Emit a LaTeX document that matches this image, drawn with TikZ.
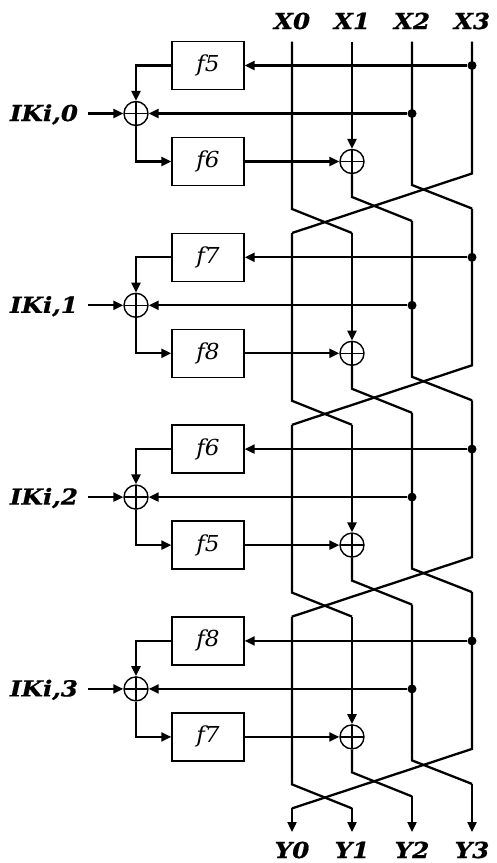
\documentclass[tikz,border=0pt]{standalone}
\usepackage{fontspec}
\setmainfont{DejaVu Serif}
\newfontfamily\labfont[FakeStretch=1.12,FakeBold=0.8]{DejaVu Serif}
\newfontfamily\boxfont[FakeStretch=1.05]{DejaVu Serif}
\usetikzlibrary{arrows.meta}
\begin{document}
\begin{tikzpicture}[x=1pt,y=-1pt,
  wire/.style={line width=2.3pt},
  arr/.style={wire,-{Triangle[length=10pt,width=9pt]}},
  fbox/.style={draw, line width=1.4pt, minimum width=72pt, minimum height=48pt, inner sep=0pt,
    font=\boxfont\fontsize{22}{24}\selectfont\itshape},
  xor/.style={circle, draw, line width=1.4pt, minimum size=24pt, inner sep=0pt,
    path picture={\draw[line width=1.4pt] (path picture bounding box.north) -- (path picture bounding box.south)
      (path picture bounding box.west) -- (path picture bounding box.east);}},
  lab/.style={font=\labfont\fontsize{22}{26}\selectfont\bfseries\itshape, inner sep=0pt, anchor=base},
  tap/.style={circle, fill, inner sep=0pt, minimum size=9pt}
]
\useasboundingbox (0,0) rectangle (497,863);
% input / output labels
\foreach \i/\x in {0/292,1/352,2/412,3/472}{
  \node[lab] (X\i) at (\x,29) {X\i};
  \node[lab] (Y\i) at (\x,858) {Y\i};
  \coordinate (yo\i) at (\x,832);
}
\foreach \r/\fa/\fb in {0/5/6,1/7/8,2/6/5,3/8/7}{
  \pgfmathsetmacro{\D}{191.8*\r}
  \node[fbox] (fa\r) at (208,65.5+\D) {f\fa};
  \node[fbox] (fb\r) at (208,161.5+\D) {f\fb};
  \node[xor] (xl\r) at (136,113.5+\D) {};
  \node[xor] (xr\r) at (352,161.5+\D) {};
  \node[lab] (ik\r) at (44,121+\D) {IKi,\r};
  \coordinate (ika\r) at (88,113.5+\D);
  \node[tap] (t3\r) at (472,65.5+\D) {};
  \node[tap] (t2\r) at (412,113.5+\D) {};
  \ifnum\r=0
    \def\eA{41.7}\def\eB{41.7}\def\eC{41.7}\def\eD{41.7}
  \else
    \pgfmathsetmacro\eA{41.2+\D}\pgfmathsetmacro\eB{41.2+\D}
    \pgfmathsetmacro\eC{29.2+\D}\pgfmathsetmacro\eD{16.7+\D}
  \fi
  % wires
  \draw[wire] (292,\eA) -- (292,209+\D) -- (352,233+\D);
  \draw[arr] (352,\eB) -- (xr\r);
  \draw[wire] (xr\r) -- (352,197+\D) -- (412,221+\D);
  \draw[wire] (412,\eC) -- (412,185+\D) -- (472,208.5+\D);
  \draw[wire] (472,\eD) -- (472,173.5+\D) -- (292,233+\D);
  % round function
  \draw[arr] (t3\r) -- (fa\r);
  \draw[arr] (fa\r.west) -| (xl\r);
  \draw[arr] (t2\r) -- (xl\r);
  \draw[arr] (ika\r) -- (xl\r);
  \draw[arr] (xl\r) |- (fb\r);
  \draw[arr] (fb\r) -- (xr\r);
}
% outputs
\draw[arr] (292,808.4) -- (yo0);
\draw[arr] (352,808.4) -- (yo1);
\draw[arr] (412,796.4) -- (yo2);
\draw[arr] (472,783.9) -- (yo3);
\end{tikzpicture}
\end{document}
